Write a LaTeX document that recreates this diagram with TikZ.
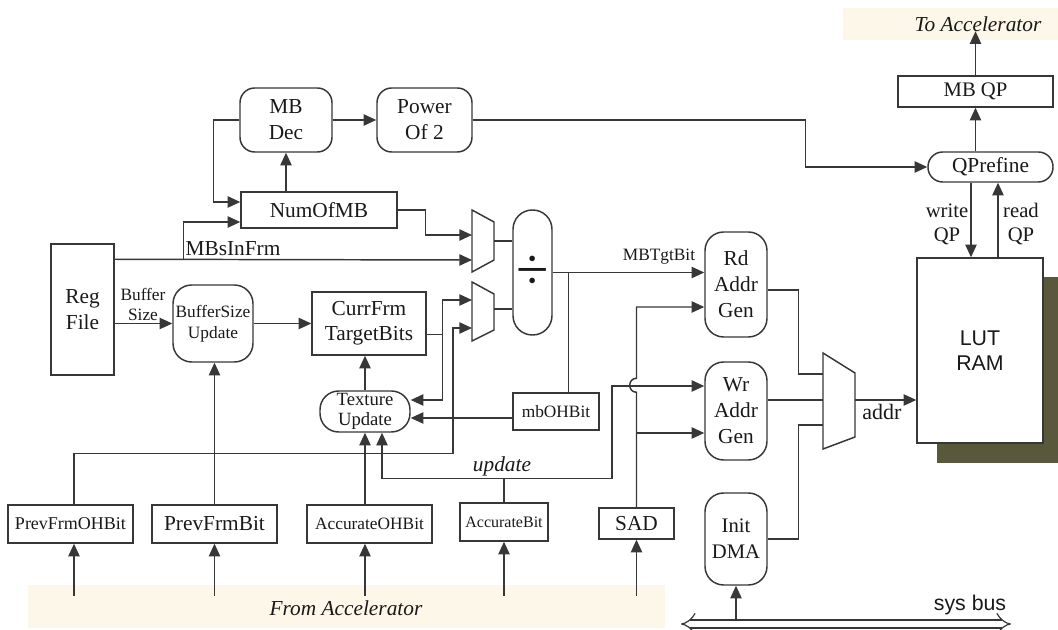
\documentclass[tikz,border=0pt]{standalone}
\usepackage{fontspec}
\setmainfont{Liberation Serif}
\newfontfamily\sansf{Liberation Sans}
\usetikzlibrary{arrows.meta,calc,fit}
\definecolor{linec}{RGB}{55,55,55}
\definecolor{txtc}{RGB}{25,25,25}
\definecolor{cream}{RGB}{253,247,234}
\definecolor{shadowc}{RGB}{90,88,60}
\newcommand{\fs}[2]{\fontsize{#1}{#2}\selectfont}
\begin{document}
\begin{tikzpicture}[x=0.75pt,y=-0.75pt,
  ln/.style={draw=linec,line width=1.1pt},
  arr/.style={ln,-{Triangle[length=9.5pt,width=8.5pt]}},
  box/.style={draw=linec,line width=1.1pt,inner sep=0pt},
  rbox/.style={box,rounded corners=11pt},
  lbl/.style={inner sep=0pt,text=txtc,align=center,font=\fs{16}{19.5}}]
\useasboundingbox (0,0) rectangle (1058,630);
% backgrounds
\fill[cream] (843,8) rectangle (1058,40);
\fill[cream] (28,585) rectangle (665,628);
\fill[shadowc] (937,277) rectangle (1058,463);
% blocks
\node[rbox,fit={(240,88)(332,152)}] (mbdec) {};
\node[lbl] (mbdecT) at (mbdec) {MB\\Dec};
\node[rbox,fit={(377,88)(472,152)}] (power) {};
\node[lbl] (powerT) at (power) {Power\\Of 2};
\node[box,fit={(241,192)(397,228)}] (numofmb) {};
\node[lbl] (numofmbT) at (numofmb) {NumOfMB};
\node[box,fit={(51,244)(114,375)}] (regfile) {};
\node[lbl,font=\fs{16}{19}] (regfileT) at (regfile) {Reg\\File};
\node[rbox,rounded corners=14pt,fit={(173,285)(253,362)}] (bsu) {};
\node[lbl,font=\fs{13}{15.5}] (bsuT) at (bsu) {BufferSize\\Update};
\node[box,fit={(312,292)(426,355)}] (currfrm) {};
\node[lbl,font=\fs{16}{19}] (currfrmT) at (currfrm) {CurrFrm\\TargetBits};
\node[rbox,rounded corners=14pt,fit={(320,391)(410,432)}] (texture) {};
\node[lbl,font=\fs{14}{14.5}] (textureT) at (texture) {Texture\\Update};
\node[rbox,rounded corners=14.5pt,fit={(513,210)(552,335)}] (divider) {};
\node[lbl] (dividerT) at (divider) {\scalebox{1.7}{\fs{26}{26}÷}};
\node[box,fit={(513,393)(599,430)}] (mbohbit) {};
\node[lbl,font=\fs{13}{15}] (mbohbitT) at (mbohbit) {mbOHBit};
\node[rbox,rounded corners=14pt,fit={(705,232)(767,337)}] (rdaddr) {};
\node[lbl] (rdaddrT) at (rdaddr) {Rd\\Addr\\Gen};
\node[rbox,rounded corners=14pt,fit={(705,362)(767,460)}] (wraddr) {};
\node[lbl] (wraddrT) at (wraddr) {Wr\\Addr\\Gen};
\node[rbox,rounded corners=14pt,fit={(705,493)(767,585)}] (initdma) {};
\node[lbl,font=\fs{15.5}{19.5}] (initdmaT) at (initdma) {Init\\DMA};
\node[box,fill=white,fit={(917,258)(1043,443)}] (lutram) {};
\node[lbl,font=\sansf\fs{16}{19}] (lutramT) at (lutram) {LUT\\RAM};
\node[rbox,fit={(928,152)(1053,182)}] (qprefine) {};
\node[lbl] (qprefineT) at (qprefine) {QPrefine};
\node[box,fit={(898,76)(1053,107)}] (mbqp) {};
\node[lbl,font=\fs{15.5}{18}] (mbqpT) at (mbqp) {MB QP};
\node[box,fit={(8,505)(133,543)}] (prevfrmoh) {};
\node[lbl,font=\fs{13.5}{15}] (prevfrmohT) at (prevfrmoh) {PrevFrmOHBit};
\node[box,fit={(152,505)(277,543)}] (prevfrmbit) {};
\node[lbl] (prevfrmbitT) at (prevfrmbit) {PrevFrmBit};
\node[box,fit={(307,505)(432,543)}] (accoh) {};
\node[lbl,font=\fs{13}{15}] (accohT) at (accoh) {AccurateOHBit};
\node[box,fit={(460,503)(548,541)}] (accbit) {};
\node[lbl,font=\fs{12}{14}] (accbitT) at (accbit) {AccurateBit};
\node[box,fit={(599,508)(674,539)}] (sad) {};
\node[lbl] (sadT) at (sad) {SAD};
% muxes
\draw[ln] (472,210) -- (494,222) -- (494,260) -- (472,272) -- cycle;
\draw[ln] (472,282) -- (494,294) -- (494,330) -- (472,341) -- cycle;
\draw[ln] (823,353) -- (855,373) -- (855,437) -- (823,449) -- cycle;
\coordinate (m1in1) at (472,235);
\coordinate (m1in2) at (472,260);
\coordinate (m1out) at (494,241);
\coordinate (m2in1) at (472,300);
\coordinate (m2in2) at (472,328);
\coordinate (m2out) at (494,309);
\coordinate (m3in1) at (823,374);
\coordinate (m3in2) at (823,400);
\coordinate (m3in3) at (823,425);
\coordinate (m3out) at (855,400);
% labels
\node[lbl] (lmbs) at (233,249) {MBsInFrm};
\node[lbl,font=\fs{13}{15}] (lbuf) at (143,304) {Buffer\\Size};
\node[lbl,font=\fs{13}{15}] (ltgt) at (659,257) {MBTgtBit};
\node[lbl,font=\itshape\fs{16}{19}] (lupd) at (502,466) {update};
\node[lbl,font=\fs{16.5}{19}] (laddr) at (882,412) {addr};
\node[lbl,font=\fs{15.5}{18}] (lwq) at (947,224) {write\\QP};
\node[lbl,font=\fs{15.5}{18}] (lrq) at (1021,224) {read\\QP};
\node[lbl,font=\itshape\fs{16}{19}] (lfromacc) at (346,608) {From Accelerator};
\node[lbl,font=\sansf\fs{16}{19}] (lsys) at (970,605) {sys bus};
% connectors
\draw[arr] (mbdec.east) -- (power.west);
\draw[arr] (power.east) -- ++(333,0) |- (qprefine.west);
\draw[arr] (mbdec.south |- numofmb.north) -- (mbdec.south);
\draw[arr] (mbdec.west) -- ++(-26,0) |- ($(numofmb.west)+(0,-8)$);
\coordinate (mbsL) at ($(regfile.north east)+(0,16)$);
\draw[arr] (mbsL) -- (m1in2);
\draw[arr] ($(mbsL)+(69,0)$) |- ($(numofmb.west)+(0,12)$);
\draw[arr] (numofmb.east) -- ++(28,0) |- (m1in1);
\draw[arr] (regfile.east |- bsu.west) -- (bsu.west);
\draw[arr] (bsu.east) -- (bsu.east -| currfrm.west);
\draw[arr] (prevfrmbit.north) -- (prevfrmbit.north |- bsu.south);
\draw[arr] (texture.north) -- (texture.north |- currfrm.south);
\coordinate (cfj) at ($(currfrm.east)+(16,11)$);
\draw[ln] ($(currfrm.east)+(0,11)$) -- (cfj);
\draw[arr] (cfj) |- (m2in1);
\draw[arr] (cfj) |- ($(texture.east)+(0,-11.5)$);
\draw[arr] ($(prevfrmoh.north)+(3.5,0)$) -- ++(0,-51) -| ($(m2in2)+(-19,0)$) -- (m2in2);
\coordinate (aoT) at (texture.south |- accoh.north);
\draw[arr] (aoT) -- (texture.south);
\coordinate (updj) at ($(accbit.north)+(0,-24)$);
\draw[ln] (accbit.north) -- (updj);
\draw[arr] (updj) -| ($(texture.south)+(17,0)$);
\draw[arr] (updj) -- ++(108,0) |- ($(wraddr.west)+(0,-25)$);
\coordinate (mbw) at ($(mbohbit.west)+(0,6.5)$);
\draw[arr] (mbw) -- (mbw -| texture.east);
\draw[ln] (m1out) -- (m1out -| divider.west);
\draw[ln] (m2out) -- (m2out -| divider.west);
\draw[arr] (divider.east) -- (divider.east -| rdaddr.west);
\coordinate (tgtj) at ($(divider.east)+(16,0)$);
\draw[ln] (tgtj) -- (tgtj |- mbohbit.north);
\draw[arr] (sad.north) -- ++(0,-115) .. controls +(-9,0) and +(-9,0) .. ++(0,-14) |- ($(rdaddr.west)+(0,22.5)$);
\coordinate (wrB) at ($(wraddr.west)+(0,22)$);
\draw[arr] (sad.north |- wrB) -- (wrB);
\draw[ln] ($(rdaddr.east)+(0,5.5)$) -- ++(31,0) |- (m3in1);
\draw[ln] ($(wraddr.east)+(0,-11)$) -- (m3in2);
\draw[ln] (initdma.east) -- ++(31,0) |- (m3in3);
\draw[arr] (m3out) -- (m3out -| lutram.west);
\coordinate (wq) at ($(qprefine.south)+(-19.5,0)$);
\coordinate (rq) at ($(qprefine.south)+(7.5,0)$);
\draw[arr] (wq) -- (wq |- lutram.north);
\draw[arr] (rq |- lutram.north) -- (rq);
\draw[arr] (mbqp.south |- qprefine.north) -- (mbqp.south);
\draw[arr] (mbqp.north) -- ++(0,-44);
\node[lbl,font=\itshape\fs{16}{19}] (ltoacc) at (978,24) {To Accelerator};
% inputs from accelerator
\draw[arr] ($(prevfrmoh.south)+(3.5,52)$) -- ($(prevfrmoh.south)+(3.5,0)$);
\draw[arr] ($(prevfrmbit.south)+(0,52)$) -- (prevfrmbit.south);
\coordinate (aoB) at (texture.south |- accoh.south);
\draw[arr] ($(aoB)+(0,52)$) -- (aoB);
\draw[arr] ($(accbit.south)+(0,54)$) -- (accbit.south);
\draw[arr] ($(sad.south)+(0,56)$) -- (sad.south);
% sys bus
\coordinate (busL) at (681,624);
\coordinate (busR) at (1011,624);
\draw[draw=linec,line width=0.9pt,double,double distance=5pt,{Implies}-{Implies}] (busL) -- (busR);
\coordinate (busT) at ($(busL)+(0,-4.5)$);
\draw[arr] (initdma.south |- busT) -- (initdma.south);
\end{tikzpicture}
\end{document}
